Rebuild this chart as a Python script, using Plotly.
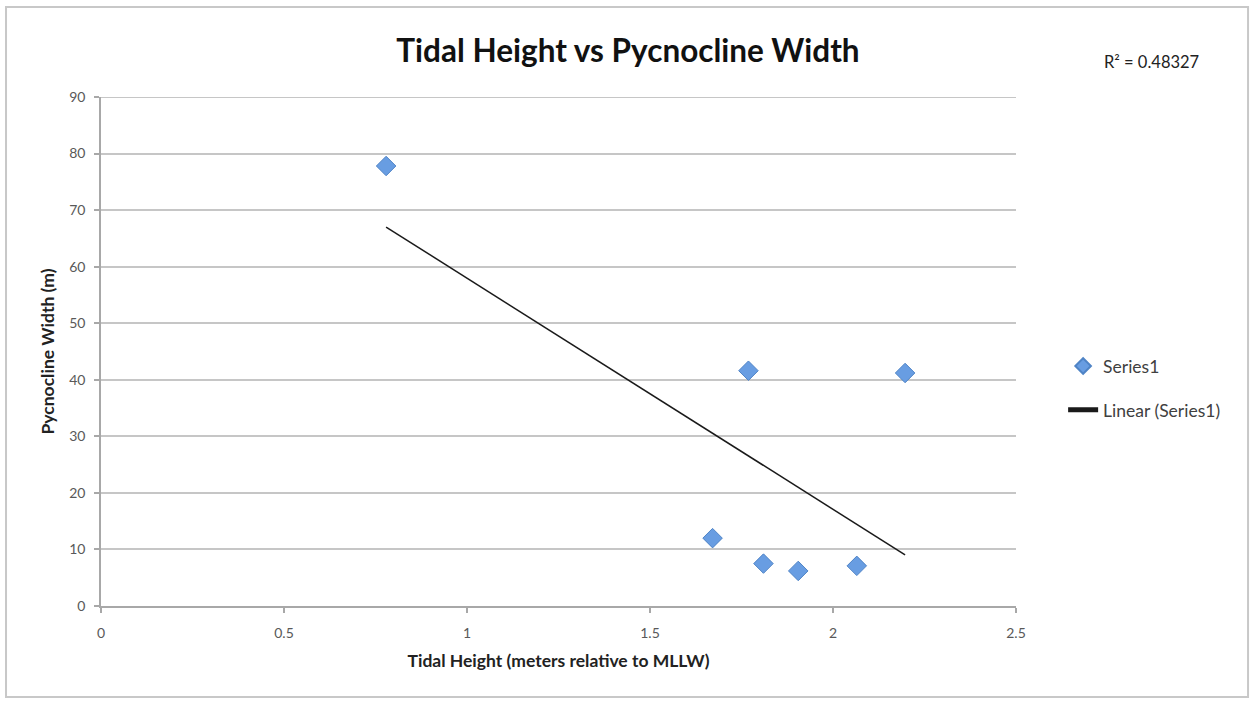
import numpy as np
import plotly.graph_objects as go

# Tidal height (m relative to MLLW) vs pycnocline width (m)
tidal_height = [0.779, 1.671, 1.769, 1.810, 1.905, 2.065, 2.197]
pycnocline_width = [77.8, 12.0, 41.6, 7.5, 6.2, 7.1, 41.2]
r2_label = "R² = 0.48327"

x_ticks = [0, 0.5, 1, 1.5, 2, 2.5]
x_tick_text = ["0", "0.5", "1", "1.5", "2", "2.5"]
y_ticks = [0, 10, 20, 30, 40, 50, 60, 70, 80, 90]

# least-squares trend line over the data range
xs = np.array(tidal_height)
ys = np.array(pycnocline_width)
slope, intercept = np.polyfit(xs, ys, 1)
trend_x = [xs.min(), xs.max()]
trend_y = [slope * v + intercept for v in trend_x]

FONT = "Lato"
GRID = "#c6c6c6"
AXIS = "#a8a8a8"

fig = go.Figure()
fig.add_trace(go.Scatter(
    x=tidal_height, y=pycnocline_width, mode="markers", name="Series1",
    legendgroup="a",
    marker=dict(symbol="diamond", size=15, color="#689de2",
                line=dict(color="#4f84c6", width=1)),
))
fig.add_trace(go.Scatter(
    x=trend_x, y=trend_y, mode="lines", name="Linear (Series1)",
    legendgroup="b",
    line=dict(color="#1a1a1a", width=1.5),
))

fig.update_layout(
    width=1251, height=702,
    margin=dict(l=101, r=235, t=97, b=96),
    paper_bgcolor="white", plot_bgcolor="white",
    font=dict(family=FONT, color="#595959", size=14),
    title=dict(text="<b>Tidal Height vs Pycnocline Width</b>",
               x=0.502, xref="container", xanchor="center",
               y=0.928, yref="container", yanchor="middle",
               font=dict(family=FONT, size=31.5, color="#111111")),
    showlegend=True,
    legend=dict(x=1.0515, y=0.428, xanchor="left", yanchor="middle",
                tracegroupgap=18, itemsizing="constant",
                font=dict(family=FONT, size=17.5, color="#404040"),
                bgcolor="rgba(0,0,0,0)"),
    xaxis=dict(range=[0, 2.5], tickvals=x_ticks, ticktext=x_tick_text,
               showgrid=False, zeroline=False,
               showline=True, linecolor=AXIS, linewidth=1.5,
               ticks="outside", ticklen=5, tickcolor=AXIS, tickwidth=1.5,
               ticklabelstandoff=8,
               tickfont=dict(family=FONT, size=14, color="#595959"),
               title=dict(text="<b>Tidal Height (meters relative to MLLW)</b>",
                          font=dict(family=FONT, size=17.5, color="#222222"),
                          standoff=15)),
    yaxis=dict(range=[0, 90], tickvals=y_ticks,
               showgrid=True, gridcolor=GRID, gridwidth=2, zeroline=False,
               showline=True, linecolor=AXIS, linewidth=1.5,
               ticks="outside", ticklen=5, tickcolor=AXIS, tickwidth=1.5,
               ticklabelstandoff=6,
               tickfont=dict(family=FONT, size=14, color="#595959"),
               title=dict(text="<b>Pycnocline Width (m)</b>",
                          font=dict(family=FONT, size=17.5, color="#222222"),
                          standoff=10)),
    annotations=[dict(text=r2_label, xref="paper", yref="paper",
                      x=1.094, y=1.069, xanchor="left", yanchor="middle",
                      showarrow=False,
                      font=dict(family=FONT, size=16.5, color="#222222"))],
    shapes=[
        dict(type="rect", xref="paper", yref="paper",
             x0=-0.1038, x1=1.2536, y0=-0.1788, y1=1.1768,
             line=dict(color="#c8c8c8", width=2), layer="below"),
        # top gridline at the axis maximum
        dict(type="line", xref="paper", yref="y", x0=0, x1=1, y0=90, y1=90,
             line=dict(color=GRID, width=2), layer="below"),
    ],
)

fig.write_html("out.html")
